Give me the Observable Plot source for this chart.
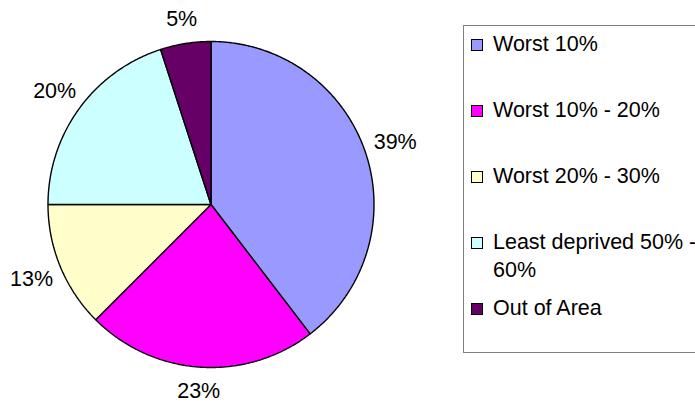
<!DOCTYPE html>
<html>
<head>
<meta charset="utf-8">
<script src="https://cdn.jsdelivr.net/npm/d3@7"></script>
<script src="https://cdn.jsdelivr.net/npm/@observablehq/plot@0.6"></script>
<style>
  html, body { margin: 0; padding: 0; background: #fff; }
  #wrap { position: relative; width: 695px; height: 405px; overflow: hidden; font-family: "Liberation Sans", Arial, sans-serif; }
  #chart { position: absolute; left: 0; top: 0; }
  #legend { position: absolute; left: 463px; top: 25px; width: 300px; height: 328px; border: 1px solid #808080; box-sizing: border-box; }
  .item { position: absolute; left: 493px; width: 215px; font-size: 21.5px; line-height: 28px; color: #000; }
  .sw { position: absolute; left: 471px; width: 12px; height: 12px; border: 1px solid #000; box-sizing: border-box; }
</style>
</head>
<body>
<div id="wrap">
  <div id="legend"></div>
  <div id="chart"></div>
</div>
<script>
// Data
const categories = ["Worst 10%", "Worst 10% - 20%", "Worst 20% - 30%", "Least deprived 50% - 60%", "Out of Area"];
const values = [39.6, 22.9, 12.5, 20.0, 5.0];
const labels = ["39%", "23%", "13%", "20%", "5%"];
const colors = ["#9999FF", "#FF00FF", "#FFFFCC", "#CCFFFF", "#660066"];

// Pie geometry (unit circle, clockwise from 12 o'clock)
const total = d3.sum(values);
const slices = [];
const labelRows = [];
let acc = 0;
values.forEach((v, i) => {
  const a0 = acc / total * 2 * Math.PI;
  acc += v;
  const a1 = acc / total * 2 * Math.PI;
  const n = Math.max(2, Math.ceil((a1 - a0) / (Math.PI / 360)));
  slices.push({cat: categories[i], x: 0, y: 0});
  for (let k = 0; k <= n; k++) {
    const a = a0 + (a1 - a0) * k / n;
    slices.push({cat: categories[i], x: Math.sin(a), y: Math.cos(a)});
  }
  slices.push({cat: categories[i], x: 0, y: 0});
  const m = (a0 + a1) / 2;
  // outside-end label: text box sits just outside the rim (wider boxes sideways)
  const r = 1.141 + 0.055 * Math.abs(Math.sin(m));
  labelRows.push({text: labels[i], x: r * Math.sin(m), y: r * Math.cos(m)});
});

const cx = 210.5, cy = 204, R = 163;
const chart = Plot.plot({
  width: 695,
  height: 405,
  margin: 0,
  x: {domain: [-1, 1], range: [cx - R, cx + R], axis: null},
  y: {domain: [-1, 1], range: [cy + R, cy - R], axis: null},
  color: {domain: categories, range: colors},
  style: {fontFamily: "'Liberation Sans', Arial, sans-serif", background: "transparent"},
  marks: [
    Plot.line(slices, {x: "x", y: "y", z: "cat", fill: "cat", stroke: "#000", strokeWidth: 1.4, strokeLinejoin: "miter"}),
    Plot.text(labelRows, {x: "x", y: "y", text: "text", fontSize: 21.5, fill: "#000"})
  ]
});
document.getElementById("chart").appendChild(chart);

// Legend
const wrap = document.getElementById("wrap");
categories.forEach((c, i) => {
  const baseline = 51 + 66 * i;
  const sw = document.createElement("div");
  sw.className = "sw";
  sw.style.top = (baseline - 12) + "px";
  sw.style.background = colors[i];
  wrap.appendChild(sw);
  const t = document.createElement("div");
  t.className = "item";
  t.style.top = (baseline - 21.5) + "px";
  t.textContent = c;
  wrap.appendChild(t);
});
</script>
</body>
</html>
